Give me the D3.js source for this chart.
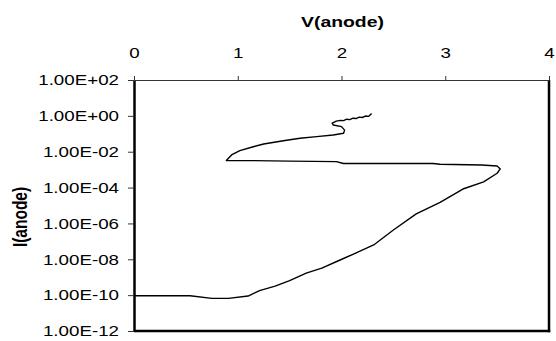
<!DOCTYPE html>
<html>
<head>
<meta charset="utf-8">
<script src="https://cdn.jsdelivr.net/npm/d3@7"></script>
<style>
  html, body { margin: 0; padding: 0; background: #fff; }
  svg { display: block; font-family: "Liberation Sans", Arial, sans-serif; }
</style>
</head>
<body>
<svg id="chart" width="556" height="341"></svg>
<script>
// Data
const vAnode = [0.00, 0.54, 0.75, 0.91, 1.10, 1.21, 1.36, 1.50, 1.66, 1.81, 1.97, 2.11, 2.31, 2.50, 2.72, 2.95, 3.17, 3.37, 3.50, 3.53,
                3.50, 3.35, 2.95, 2.88, 2.02, 1.95, 1.50, 1.12, 0.89,
                0.94, 1.02, 1.15, 1.25, 1.44, 1.60, 1.76, 1.92, 2.02, 2.03, 2.00, 1.92, 1.91, 1.95,
                1.99, 2.02, 2.05, 2.08, 2.11, 2.14, 2.17, 2.20, 2.23, 2.26, 2.29];
const iAnode = [9.3e-11, 9.3e-11, 6.6e-11, 6.6e-11, 8.9e-11, 1.8e-10, 3.2e-10, 6.5e-10, 1.7e-9, 3.2e-9, 8.3e-9, 1.9e-8, 6.3e-8, 4.3e-7, 3.4e-6, 1.5e-5, 8.3e-5, 2.1e-4, 6.3e-4, 1.1e-3,
                1.6e-3, 1.8e-3, 2.0e-3, 2.2e-3, 2.2e-3, 2.8e-3, 3.0e-3, 3.2e-3, 3.2e-3,
                6.6e-3, 1.15e-2, 1.9e-2, 2.7e-2, 4.1e-2, 5.6e-2, 6.9e-2, 8.5e-2, 0.107, 0.16, 0.25, 0.31, 0.39, 0.51,
                0.56, 0.54, 0.65, 0.62, 0.74, 0.71, 0.85, 0.81, 0.98, 0.93, 1.35];
const xTicks = [0, 1, 2, 3, 4];
const yTicks = [1e2, 1e0, 1e-2, 1e-4, 1e-6, 1e-8, 1e-10, 1e-12];
const yTickLabels = ["1.00E+02", "1.00E+00", "1.00E-02", "1.00E-04", "1.00E-06", "1.00E-08", "1.00E-10", "1.00E-12"];
const xTitle = "V(anode)";
const yTitle = "I(anode)";

const svg = d3.select("#chart");
const padL = 134, padR = 549, padT = 80, padB = 331;
const stretch = 1.25; // text in the reference is horizontally wide

const x = d3.scaleLinear().domain([0, 4]).range([padL, padR]);
const y = d3.scaleLog().domain([1e-12, 1e2]).range([padB, padT]);

// Plot frame (right & bottom thick)
svg.append("line").attr("x1", padR).attr("x2", padR).attr("y1", padT).attr("y2", padB + 1.25)
  .attr("stroke", "#000").attr("stroke-width", 2.5);
svg.append("line").attr("x1", padL).attr("x2", padR + 1.25).attr("y1", padB).attr("y2", padB)
  .attr("stroke", "#000").attr("stroke-width", 2.5);

// Curve
const data = vAnode.map((v, i) => ({ v, i: iAnode[i] }));
svg.append("path")
  .datum(data)
  .attr("fill", "none")
  .attr("stroke", "#000")
  .attr("stroke-width", 1.4)
  .attr("stroke-linejoin", "round")
  .attr("d", d3.line().x(d => x(d.v)).y(d => y(d.i)));

// Top axis
const xAxis = d3.axisTop(x).tickValues(xTicks).tickFormat(d3.format("d")).tickSizeOuter(0).tickSizeInner(4);
const gx = svg.append("g").attr("transform", `translate(0,${padT})`).call(xAxis);
gx.select(".domain").attr("stroke", "#333").attr("stroke-width", 1);
gx.selectAll(".tick line").attr("stroke", "#333");
gx.selectAll(".tick text")
  .attr("font-size", 15).attr("fill", "#000").attr("font-family", "Liberation Sans, Arial, sans-serif")
  .attr("y", 0).attr("dy", 0)
  .attr("transform", `translate(0,-22.5) scale(${stretch},1)`);

// Left axis
const yAxis = d3.axisLeft(y).tickValues(yTicks).tickFormat((d, i) => yTickLabels[i]).tickSizeOuter(0).tickSizeInner(6);
const gy = svg.append("g").attr("transform", `translate(${padL},0)`).call(yAxis);
gy.select(".domain").attr("stroke", "#000").attr("stroke-width", 2.5);
gy.selectAll(".tick line").attr("stroke", "#333");
gy.selectAll(".tick text")
  .attr("font-size", 15).attr("fill", "#000").attr("font-family", "Liberation Sans, Arial, sans-serif")
  .attr("x", 0)
  .attr("transform", `translate(-15,0) scale(${stretch},1)`);

// Titles
svg.append("text")
  .attr("transform", `translate(${(padL + padR) / 2 + 1},27) scale(${stretch},1)`)
  .attr("text-anchor", "middle").attr("font-weight", "bold").attr("font-size", 15.5).text(xTitle);
svg.append("text")
  .attr("transform", `translate(27,217) scale(${stretch},1) rotate(-90)`)
  .attr("text-anchor", "middle").attr("font-weight", "bold").attr("font-size", 15.5).text(yTitle);
</script>
</body>
</html>
